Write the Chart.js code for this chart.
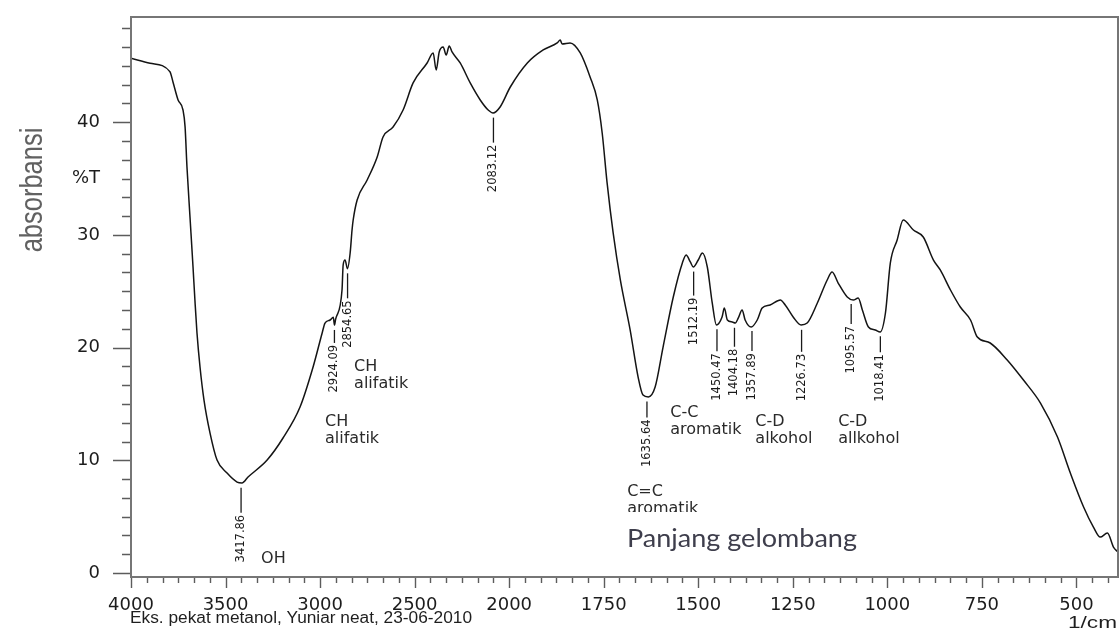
<!DOCTYPE html>
<html>
<head>
<meta charset="utf-8">
<script src="https://cdn.jsdelivr.net/npm/chart.js@4.4.1/dist/chart.umd.min.js"></script>
<style>
  html, body { margin: 0; padding: 0; background: #fff; }
  #wrap { width: 1120px; height: 631px; position: relative; }
</style>
</head>
<body>
<div id="wrap"><canvas id="irChart"></canvas></div>
<script>
// spectrum (1/cm, %T)
const wavenumbers = [
  4000, 3899, 3794, 3778, 3751, 3725, 3714, 3704, 3688, 3672,
  3662, 3651, 3635, 3614, 3582, 3545, 3492, 3439, 3413, 3381,
  3280, 3196, 3106, 3037, 2989, 2974, 2947, 2930, 2924, 2918,
  2884, 2878, 2868, 2855, 2841, 2831, 2825, 2804, 2751, 2698,
  2667, 2614, 2561, 2508, 2434, 2402, 2386, 2370, 2349, 2333,
  2317, 2302, 2259, 2206, 2153, 2111, 2085, 2048, 1997, 1952,
  1910, 1873, 1865, 1860, 1839, 1812, 1786, 1767, 1754, 1741,
  1725, 1706, 1680, 1659, 1646, 1632, 1614, 1593, 1566, 1542,
  1532, 1521, 1513, 1500, 1489, 1476, 1463, 1452, 1437, 1431,
  1423, 1410, 1402, 1394, 1384, 1376, 1360, 1344, 1331, 1310,
  1283, 1270, 1249, 1228, 1212, 1185, 1159, 1146, 1130, 1106,
  1090, 1077, 1066, 1050, 1032, 1019, 1005, 992, 974, 958,
  931, 905, 878, 860, 833, 807, 780, 762, 728, 683,
  640, 595, 550, 516, 481, 455, 437, 418, 402, 390
];
const transmittance = [
  45.67, 45.23, 44.48, 43.57, 41.97, 41.08, 39.58, 36.03, 31.59, 27.15,
  24.22, 21.30, 18.28, 15.35, 12.42, 10.03, 8.87, 8.07, 7.99, 8.52,
  10.03, 11.98, 14.73, 18.28, 21.30, 22.18, 22.45, 22.70, 22.00, 22.50,
  25.11, 27.33, 27.77, 27.00, 28.39, 30.43, 31.32, 33.10, 34.87, 36.91,
  38.69, 39.57, 41.08, 43.48, 45.25, 46.14, 44.63, 46.23, 46.67, 45.96,
  46.76, 46.23, 45.25, 43.48, 41.97, 41.08, 40.82, 41.35, 43.12, 45.25,
  46.41, 47.03, 47.29, 46.94, 47.03, 46.14, 44.01, 41.97, 39.04, 34.61,
  30.17, 26.00, 21.56, 17.39, 15.79, 15.62, 16.50, 20.05, 24.49, 27.51,
  28.22, 27.60, 27.15, 27.77, 28.39, 27.15, 23.96, 22.01, 22.72, 23.51,
  22.45, 22.27, 22.18, 22.63, 23.34, 22.45, 21.83, 22.45, 23.51, 23.78,
  24.22, 23.78, 22.72, 22.01, 22.18, 23.96, 26.00, 26.71, 25.73, 24.49,
  24.22, 24.40, 23.34, 21.83, 21.56, 21.38, 23.07, 27.51, 29.55, 31.32,
  30.43, 29.81, 27.77, 26.89, 25.11, 23.60, 22.45, 20.94, 20.41, 18.90,
  17.12, 15.08, 12.07, 8.87, 5.86, 4.08, 3.19, 3.55, 2.31, 1.86
];

const xTickLabels = [4000, 3500, 3000, 2500, 2000, 1750, 1500, 1250, 1000, 750, 500];
const yTickLabels = [0, 10, 20, 30, 40];
const yUnitLabel = '%T';
const yUnitAt = 35;

const peakWavenumbers = [3417.86, 2924.09, 2854.65, 2083.12, 1635.64, 1512.19,
                         1450.47, 1404.18, 1357.89, 1226.73, 1095.57, 1018.41];
const peakLabels = peakWavenumbers.map(w => w.toFixed(2));

const groupNames = ['OH', 'CH\nalifatik', 'CH\nalifatik', 'C=C\naromatik',
                    'C-C\naromatik', 'C-D\nalkohol', 'C-D\nallkohol'];

// where the annotations sit (layout only)
const notes = {
  peakLine: [25, 13, 25, 25, 16, 24, 22, 19, 20, 22, 20, 16],
  groupAt: [3312, 2974, 2820, 1688, 1574, 1349, 1130],
  groupTop: [1.95, 14.1, 19.0, 7.9, 14.9, 14.1, 14.1]
};

// the instrument squeezes 4000-2000 to half scale
const toU = w => w >= 2000 ? (4000 - w) / 2 : 1000 + (2000 - w);
const fromU = u => u <= 1000 ? 4000 - 2 * u : 2000 - (u - 1000);
const isMajorX = v => xTickLabels.some(w => Math.abs(toU(w) - v) < 1e-3);
const isMajorY = v => yTickLabels.some(t => Math.abs(t - v) < 1e-6);

function valueAt(w) {
  for (let i = 0; i < wavenumbers.length - 1; i++) {
    const a = wavenumbers[i], b = wavenumbers[i + 1];
    if (w <= a && w >= b) {
      const t = (a - w) / (a - b);
      return transmittance[i] + t * (transmittance[i + 1] - transmittance[i]);
    }
  }
  return transmittance[transmittance.length - 1];
}

function fitText(ctx, text, x, y, width) {
  const m = ctx.measureText(text).width;
  ctx.save();
  ctx.translate(x, y);
  ctx.scale(width / m, 1);
  ctx.fillText(text, 0, 0);
  ctx.restore();
}

const decor = {
  id: 'decor',
  afterDraw(chart) {
    const ctx = chart.ctx, a = chart.chartArea;
    const xs = chart.scales.x, ys = chart.scales.y;
    ctx.save();

    // tick marks
    ctx.strokeStyle = '#5c5c5c';
    ctx.lineWidth = 1.4;
    ctx.beginPath();
    xs.ticks.forEach(t => {
      const px = Math.round(xs.getPixelForValue(t.value)) + 0.5;
      ctx.moveTo(px, a.bottom);
      ctx.lineTo(px, a.bottom + (isMajorX(t.value) ? 11 : 6));
    });
    ys.ticks.forEach(t => {
      const py = Math.round(ys.getPixelForValue(t.value)) + 0.5;
      ctx.moveTo(a.left - (isMajorY(t.value) ? 18 : 9), py);
      ctx.lineTo(a.left, py);
    });
    ctx.stroke();

    // frame
    ctx.strokeStyle = '#767676';
    ctx.lineWidth = 2;
    ctx.strokeRect(a.left, a.top, a.right - a.left, a.bottom - a.top);

    // peak picks
    ctx.fillStyle = '#1a1a1a';
    ctx.strokeStyle = '#1a1a1a';
    ctx.lineWidth = 1.3;
    ctx.font = '11.5px "DejaVu Sans", sans-serif';
    peakWavenumbers.forEach((w, i) => {
      const px = xs.getPixelForValue(toU(w));
      const py = ys.getPixelForValue(valueAt(w)) + 5;
      const len = notes.peakLine[i];
      ctx.beginPath();
      ctx.moveTo(px, py);
      ctx.lineTo(px, py + len);
      ctx.stroke();
      ctx.save();
      ctx.translate(px, py + len + 2);
      ctx.rotate(-Math.PI / 2);
      ctx.textAlign = 'right';
      ctx.textBaseline = 'middle';
      ctx.fillText(peakLabels[i], 0, 0);
      ctx.restore();
    });

    // group labels
    ctx.fillStyle = '#2a2a2a';
    ctx.font = '16px "DejaVu Sans", sans-serif';
    ctx.textAlign = 'left';
    ctx.textBaseline = 'top';
    groupNames.forEach((name, i) => {
      const px = xs.getPixelForValue(toU(notes.groupAt[i]));
      const py = ys.getPixelForValue(notes.groupTop[i]);
      name.split('\n').forEach((line, j) => {
        ctx.save();
        if (i === 3) {
          ctx.beginPath();
          ctx.rect(px - 5, py - 10, 200, 512 - (py - 10));
          ctx.clip();
        }
        ctx.fillText(line, px, py + j * 17);
        ctx.restore();
      });
    });

    // axis captions
    ctx.textBaseline = 'alphabetic';
    ctx.fillStyle = '#3e3e4c';
    ctx.font = '25px Lato, "Open Sans", sans-serif';
    fitText(ctx, 'Panjang gelombang', 627, 547, 230);

    ctx.fillStyle = '#1e1e1e';
    ctx.font = '16px "Liberation Sans", Arial, sans-serif';
    fitText(ctx, 'Eks. pekat metanol, Yuniar neat, 23-06-2010', 130, 623, 342);
    fitText(ctx, '1/cm', 1068, 628, 49);

    ctx.fillStyle = '#616161';
    ctx.font = '25.5px "Liberation Sans", Arial, sans-serif';
    ctx.save();
    ctx.translate(42, 190);
    ctx.rotate(-Math.PI / 2);
    ctx.scale(1, 1.25);
    ctx.textAlign = 'center';
    ctx.fillText('absorbansi', 0, 0);
    ctx.restore();

    ctx.restore();
  }
};

new Chart(document.getElementById('irChart'), {
  type: 'line',
  data: {
    datasets: [{
      data: wavenumbers.map((w, i) => ({ x: toU(w), y: transmittance[i] })),
      borderColor: '#141414',
      borderWidth: 1.5,
      pointRadius: 0,
      cubicInterpolationMode: 'monotone',
      fill: false
    }]
  },
  options: {
    responsive: true,
    maintainAspectRatio: false,
    animation: false,
    layout: { padding: { top: 17, right: 2, left: 0, bottom: 0 } },
    plugins: { legend: { display: false }, tooltip: { enabled: false } },
    scales: {
      x: {
        type: 'linear',
        min: 0,
        max: toU(390),
        grid: { display: false },
        border: { display: false },
        afterBuildTicks: s => {
          const t = [];
          for (let k = 0; k * 250 / 6 <= s.max + 1e-6; k++) t.push({ value: k * 250 / 6 });
          s.ticks = t;
        },
        afterFit: s => {
          s.height = 54;
          s.paddingLeft = 0;
          s.paddingRight = 0;
        },
        ticks: {
          autoSkip: false,
          maxRotation: 0,
          padding: 10,
          color: '#1c1c1c',
          font: { family: '"DejaVu Sans", sans-serif', size: 18 },
          callback: v => isMajorX(v) ? String(Math.round(fromU(v))) : ''
        }
      },
      y: {
        min: -0.35,
        max: 49.33,
        grid: { display: false },
        border: { display: false },
        afterBuildTicks: s => {
          const t = [];
          for (let k = 0; k * 10 / 6 <= s.max; k++) t.push({ value: k * 10 / 6 });
          s.ticks = t;
        },
        afterFit: s => {
          s.width = 131;
          s.paddingTop = 0;
          s.paddingBottom = 0;
        },
        ticks: {
          autoSkip: false,
          padding: 23,
          color: '#1c1c1c',
          font: { family: '"DejaVu Sans", sans-serif', size: 18 },
          callback: v => {
            if (isMajorY(v)) return String(Math.round(v));
            if (Math.abs(v - yUnitAt) < 1e-6) return yUnitLabel;
            return '';
          }
        }
      }
    }
  },
  plugins: [decor]
});
</script>
</body>
</html>
